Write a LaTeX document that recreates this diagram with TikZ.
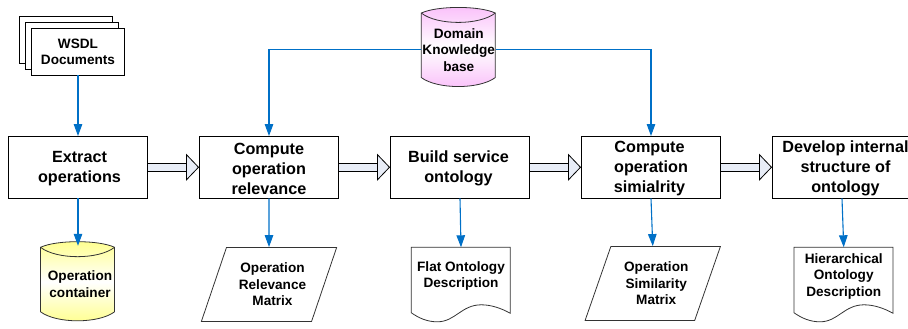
\documentclass[tikz,border=0pt]{standalone}
\usepackage{fontspec}
\setmainfont{Liberation Sans}
\usepackage{tikz}
\usetikzlibrary{backgrounds}
\usetikzlibrary{positioning}
\usetikzlibrary{arrows.meta}
\usetikzlibrary{shadows}
\usetikzlibrary{shapes.geometric}
\definecolor{flowblue}{rgb}{0.0,0.44,0.78}
\definecolor{palearrow}{rgb}{0.91,0.93,0.97}
\definecolor{dbyellow}{rgb}{1.0,1.0,0.55}
\definecolor{dbpink}{rgb}{0.98,0.75,0.98}
\definecolor{shapegray}{rgb}{0.2,0.2,0.2}

% database drum behind a node
\newcommand{\drumshape}[2]{
  \begin{scope}[on background layer, shift={(#1.north west)}]
    \shade[top color=#2, bottom color=#2, middle color=white]
      (0,8.5) .. controls (16,1) and (58,1) .. (74,8.5) -- (74,73)
      .. controls (58,85) and (16,85) .. (0,73) -- cycle;
    \draw[shapegray, line width=0.8pt]
      (0,8.5) .. controls (16,1) and (58,1) .. (74,8.5) -- (74,73)
      .. controls (58,85) and (16,85) .. (0,73) -- cycle;
    \draw[shapegray, line width=0.8pt]
      (0,8.5) .. controls (16,21) and (58,21) .. (74,8.5);
  \end{scope}
}
% document sheet with wavy foot behind a node
\newcommand{\sheetshape}[1]{
  \begin{scope}[on background layer, shift={(#1.north west)}]
    \draw[shapegray, line width=0.8pt, fill=white]
      (0,0) -- (0,65.5) .. controls (8,71) and (16,74.5) .. (26,74.5)
      .. controls (44,74.5) and (50,57.5) .. (70,57.5)
      .. controls (80,57.5) and (90,61) .. (99,66) -- (99,0) -- cycle;
  \end{scope}
}
\newcommand{\nudge}[1][7pt]{\hspace*{#1}}
\newcommand{\lift}{\rule{0pt}{14pt}}

\begin{document}
\begin{tikzpicture}[
            x = 1pt,
            y = -1pt,
            > = {Triangle[length=12pt,width=8.5pt]},
            node distance = 191pt
        ]

        \tikzstyle{procbox}=[
            draw,
            line width = 0.9pt,
            fill = white,
            align = center,
            inner sep = 0pt,
            minimum width = 139pt,
            minimum height = 61.5pt,
            font = \fontsize{16.2}{20}\selectfont\bfseries
        ]
        \tikzstyle{smalltext}=[
            align = center,
            inner sep = 0pt,
            font = \fontsize{13.6}{16.5}\selectfont\bfseries
        ]
        \tikzstyle{drum}=[smalltext, minimum width = 74.5pt, minimum height = 90pt]
        \tikzstyle{sheet}=[smalltext, minimum width = 99pt, minimum height = 57pt]
        \tikzstyle{slanted}=[
            smalltext,
            draw = shapegray,
            line width = 0.8pt,
            trapezium,
            trapezium left angle = 63,
            trapezium right angle = 117,
            trapezium stretches = true,
            minimum width = 135.5pt,
            minimum height = 74pt
        ]
        \tikzstyle{flow}=[->, flowblue, line width = 1.1pt]
        \tikzstyle{hollow}=[
            -{Triangle[length=13pt,width=27pt,fill=palearrow,line width=0.8pt]},
            double = palearrow,
            double distance = 7.5pt,
            line width = 0.9pt
        ]

        \useasboundingbox (0,0) rectangle (908,329);

        % process level
        \node[procbox] (extract) at (78,167.25) {\lift\nudge[3pt]Extract\\\nudge[3pt]operations};
        \node[procbox] (relevance) [right of=extract] {\lift Compute\\operation\\relevance};
        \node[procbox] (build) [right of=relevance] {\lift Build service\nudge[3pt]\\ontology\nudge[3pt]};
        \node[procbox] (similarity) [right of=build] {\lift Compute\nudge[3pt]\\operation\nudge[3pt]\\simialrity\nudge[3pt]};
        \node[procbox] (develop) [right of=similarity] {\lift\nudge Develop internal\\\nudge structure of\\\nudge ontology};

        \draw[hollow] (extract.east) -- (relevance.west);
        \draw[hollow] (relevance.east) -- (build.west);
        \draw[hollow] (build.east) -- (similarity.west);
        \draw[hollow] (similarity.east) -- (develop.west);

        % inputs
        \node[smalltext, draw, line width = 0.8pt, fill = white,
              minimum width = 93pt, minimum height = 46.5pt,
              double copy shadow = {shadow xshift = -6pt, shadow yshift = 6pt,
                                    draw, fill = white}]
              (wsdl) [above of=extract, node distance=115.5pt] {WSDL\\Documents};
        \node[drum] (domain) [above of=build, node distance=117.5pt, xshift=-1.25pt]
              {Domain\\Knowledge\\base};
        \drumshape{domain}{dbpink}

        % outputs
        \node[drum] (container) [below of=extract, node distance=116.75pt]
              {\nudge[4pt]Operation\\\nudge[4pt]container};
        \drumshape{container}{dbyellow}
        \node[slanted] (relmatrix) [below of=relevance, node distance=117.25pt]
              {\nudge Operation\\\nudge Relevance\\\nudge Matrix};
        \node[sheet] (flatdoc) [below of=build, node distance=108.75pt, xshift=1pt]
              {Flat Ontology\\Description};
        \sheetshape{flatdoc}
        \node[slanted] (simmatrix) [below of=similarity, node distance=116.25pt, xshift=1.75pt]
              {\nudge Operation\\\nudge Similarity\\\nudge Matrix};
        \node[sheet] (hierdoc) [below of=develop, node distance=108.75pt, xshift=1.75pt]
              {Hierarchical\\Ontology\\Description};
        \sheetshape{hierdoc}

        \draw[flow] (wsdl.south) -- (extract.north);
        \draw[flow] (domain.west) -| (relevance.north);
        \draw[flow] (domain.east) -| (similarity.north);
        \draw[flow, shorten > = -7pt] (extract.south) -- (container.north);
        \draw[flow] (relevance.south) -- (relmatrix.north);
        \draw[flow] (build.south) -- (flatdoc.north);
        \draw[flow] (similarity.south) -- (simmatrix.north);
        \draw[flow] (develop.south) -- (hierdoc.north);

\end{tikzpicture}
\end{document}
